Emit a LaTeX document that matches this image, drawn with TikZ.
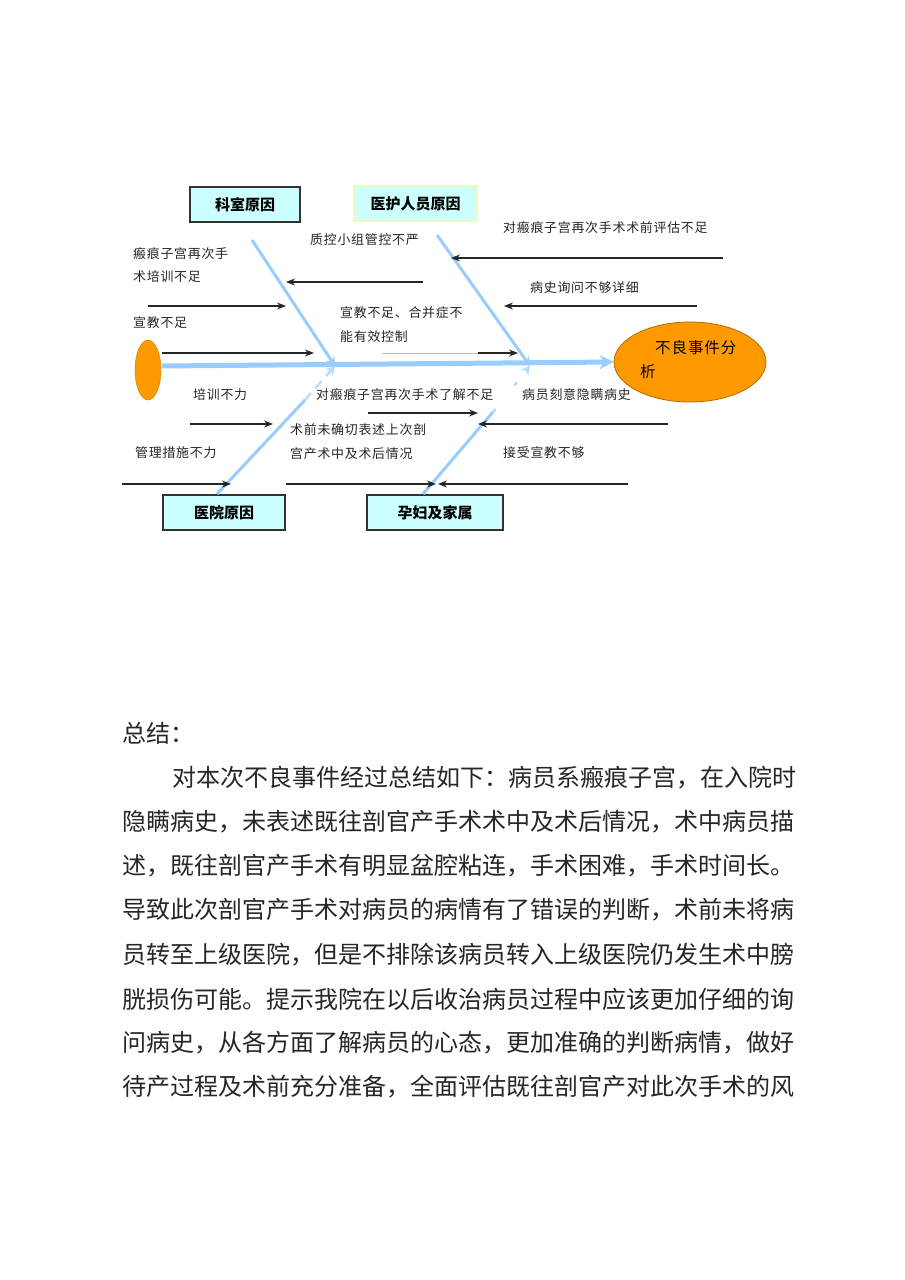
\documentclass[tikz,border=0pt]{standalone}
\usepackage{fontspec}
\setmainfont{Noto Sans CJK SC}
\newfontfamily\cjk{Noto Sans CJK SC}
\newfontfamily\cjkd[LetterSpace=6]{Noto Sans CJK SC}
\newfontfamily\cjkb[LetterSpace=6]{Noto Sans CJK SC}
\usetikzlibrary{arrows.meta,shapes.geometric}
\definecolor{bonec}{HTML}{99CCFF}
\definecolor{boxfill}{HTML}{CCFFFF}
\definecolor{orangec}{HTML}{FF9900}
\tikzset{
  lbl/.style={anchor=west,inner sep=0pt,font=\cjkd\fontsize{12.9}{23.5}\selectfont,text=black!85,align=left},
  catbox/.style={draw=black!80,line width=1.2pt,fill=boxfill,minimum height=35pt,inner sep=0pt,font=\cjk\bfseries\fontsize{15}{18}\selectfont},
  spine/.style={draw=bonec,line width=5pt,-{Stealth[length=14pt,width=14pt]}},
  bone/.style={draw=bonec,line width=3pt,-{Stealth[length=9pt,width=10pt]}},
  faintbone/.style={draw=bonec!70,line width=2.5pt,dash pattern=on 9pt off 7pt,-{Stealth[length=9pt,width=10pt]}},
  cause/.style={draw=black!85,line width=1.1pt,-{Stealth[length=9pt,width=7pt]}},
  bodyline/.style={anchor=west,inner sep=0pt,font=\cjk\fontsize{24}{24}\selectfont,text=black!85}
}
\begin{document}
\begin{tikzpicture}[x=1pt,y=-1pt]
\useasboundingbox[fill=white] (0,0) rectangle (905,1280);

% category boxes
\node[catbox,minimum width=110pt] (ks) at (245,204.5) {科室原因};
\node[catbox,minimum width=123pt,draw={rgb,255:red,235;green,250;blue,190}] (yh) at (415.5,203.5) {医护人员原因};
\node[catbox,minimum width=122pt] (yy) at (224,512.5) {医院原因};
\node[catbox,minimum width=136pt] (yf) at (435,512.5) {孕妇及家属};

% ends of the fish
\node[draw=orangec!80!black,fill=orangec,ellipse,minimum width=26pt,minimum height=60pt,inner sep=0pt] (tail) at (148,370) {};
\node[draw=orangec!70!black,line width=0.8pt,fill=orangec,ellipse,minimum width=152pt,minimum height=80pt,inner sep=0pt] (head) at (690,362) {};
\node[anchor=west,inner sep=0pt,font=\cjkb\fontsize{15.5}{18}\selectfont] (h1) at (655,348) {不良事件分};
\node[anchor=west,inner sep=0pt,font=\cjkb\fontsize{15.5}{18}\selectfont] (h2) at (640,372) {析};

% spine
\coordinate (sp0) at (162,366);
\coordinate (j1) at (335,366);
\coordinate (j2) at (530,366);
\draw[spine] (sp0) -- (head.west);

% bones
\coordinate (b1) at (252,240);
\coordinate (b2) at (437,235);
\coordinate (b3) at (217,494);
\coordinate (b4) at (423,494);
\coordinate (m3) at (305,400);
\coordinate (m4) at (493,412);
\draw[bone] (b1) -- (j1);
\draw[bone] (b2) -- (j2);
\draw[draw=bonec,line width=3pt] (b3) -- (m3);
\draw[faintbone] (m3) -- (j1);
\draw[draw=bonec,line width=3pt] (b4) -- (m4);
\draw[faintbone,dash pattern=on 4pt off 30pt] (m4) -- (j2);

% cause arrows: start and end coordinates
\coordinate (a1s) at (723,258); \coordinate (a1e) at (451,258);
\coordinate (a2s) at (697,306); \coordinate (a2e) at (504,306);
\coordinate (a3s) at (423,282); \coordinate (a3e) at (286,282);
\coordinate (a4s) at (148,306); \coordinate (a4e) at (286,306);
\coordinate (a5s) at (162,353); \coordinate (a5e) at (314,353);
\coordinate (a6s) at (382,353); \coordinate (a6m) at (478,353); \coordinate (a6e) at (518,353);
\coordinate (a7s) at (190,424); \coordinate (a7e) at (273,424);
\coordinate (a8s) at (122,484); \coordinate (a8e) at (231,484);
\coordinate (a9s) at (368,413); \coordinate (a9e) at (478,413);
\coordinate (a10s) at (668,424); \coordinate (a10e) at (478,424);
\coordinate (a11s) at (286,484); \coordinate (a11e) at (436,484);
\coordinate (a12s) at (628,484); \coordinate (a12e) at (438,484);

\draw[cause] (a1s) -- (a1e);
\draw[cause] (a2s) -- (a2e);
\draw[cause] (a3s) -- (a3e);
\draw[cause] (a4s) -- (a4e);
\draw[cause] (a5s) -- (a5e);
\draw[black!25,line width=1pt] (a6s) -- (a6m);
\draw[cause] (a6m) -- (a6e);
\draw[cause] (a7s) -- (a7e);
\draw[cause] (a8s) -- (a8e);
\draw[cause] (a9s) -- (a9e);
\draw[cause] (a10s) -- (a10e);
\draw[cause] (a11s) -- (a11e);
\draw[cause] (a12s) -- (a12e);

% labels
\node[lbl] (l1) at (503,228) {对瘢痕子宫再次手术术前评估不足};
\node[lbl] (l2) at (530,288) {病史询问不够详细};
\node[lbl] (l3) at (310,240) {质控小组管控不严};
\node[lbl] (l4) at (133,265) {瘢痕子宫再次手\\术培训不足};
\node[lbl] (l5) at (133,323) {宣教不足};
\node[lbl] (l6) at (340,324.5) {宣教不足、合并症不\\能有效控制};
\node[lbl] (l7) at (193,395) {培训不力};
\node[lbl] (l8) at (135,453) {管理措施不力};
\node[lbl] (l9) at (316,395) {对瘢痕子宫再次手术了解不足};
\node[lbl] (l10) at (522,395) {病员刻意隐瞒病史};
\node[lbl] (l11) at (290,441.5) {术前未确切表述上次剖\\宫产术中及术后情况};
\node[lbl] (l12) at (503,453) {接受宣教不够};

% summary text
\node[bodyline] (t0) at (122,733) {总结：};
\node[bodyline] (t1) at (172,778) {对本次不良事件经过总结如下：病员系瘢痕子宫，在入院时};
\node[bodyline] (t2) at (122,822) {隐瞒病史，未表述既往剖官产手术术中及术后情况，术中病员描};
\node[bodyline] (t3) at (122,866) {述，既往剖官产手术有明显盆腔粘连，手术困难，手术时间长。};
\node[bodyline] (t4) at (122,910) {导致此次剖官产手术对病员的病情有了错误的判断，术前未将病};
\node[bodyline] (t5) at (122,955) {员转至上级医院，但是不排除该病员转入上级医院仍发生术中膀};
\node[bodyline] (t6) at (122,999) {胱损伤可能。提示我院在以后收治病员过程中应该更加仔细的询};
\node[bodyline] (t7) at (122,1043) {问病史，从各方面了解病员的心态，更加准确的判断病情，做好};
\node[bodyline] (t8) at (122,1087) {待产过程及术前充分准备，全面评估既往剖官产对此次手术的风};
\end{tikzpicture}
\end{document}
